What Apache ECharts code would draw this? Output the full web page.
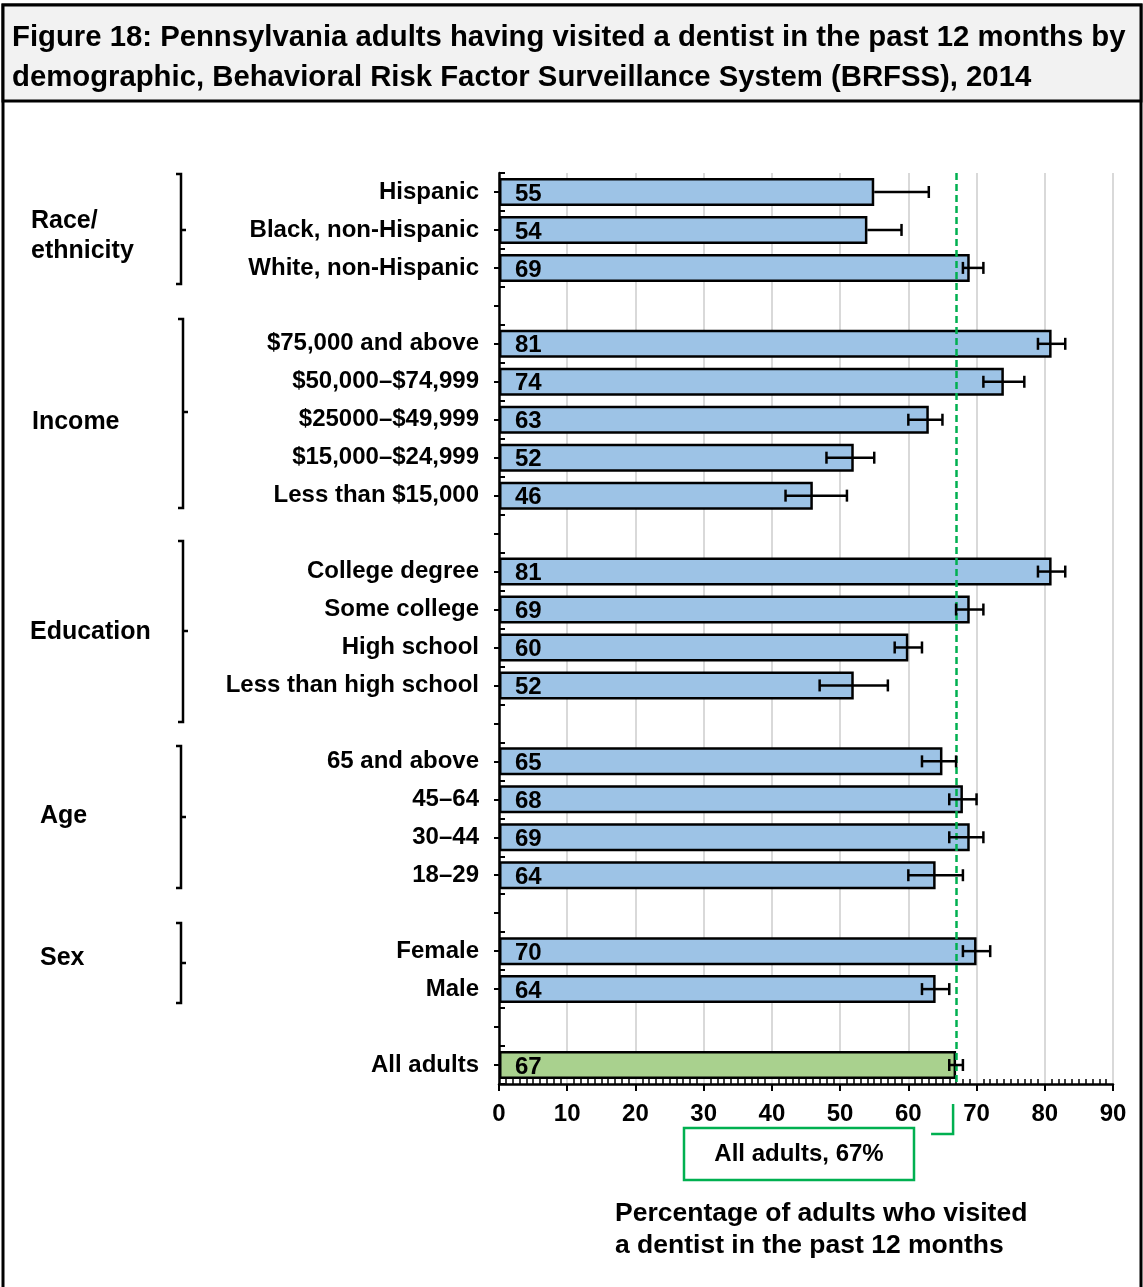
<!DOCTYPE html>
<html>
<head>
<meta charset="utf-8">
<script src="https://cdn.jsdelivr.net/npm/echarts@6/dist/echarts.min.js"></script>
<style>
html,body{margin:0;padding:0;background:#fff;}
#chart{width:1143px;height:1287px;}
</style>
</head>
<body>
<div id="chart"></div>
<script>
// ---- data ----
const categories = [
  'Hispanic', 'Black, non-Hispanic', 'White, non-Hispanic', '',
  '$75,000 and above', '$50,000–$74,999', '$25000–$49,999', '$15,000–$24,999', 'Less than $15,000', ' ',
  'College degree', 'Some college', 'High school', 'Less than high school', '  ',
  '65 and above', '45–64', '30–44', '18–29', '   ',
  'Female', 'Male', '    ',
  'All adults'
];
const values   = [55, 54, 69, null, 81, 74, 63, 52, 46, null, 81, 69, 60, 52, null, 65, 68, 69, 64, null, 70, 64, null, 67];
const errLow   = [null, null, 68, null, 79, 71, 60, 48, 42, null, 79, 67, 58, 47, null, 62, 66, 66, 60, null, 68, 62, null, 66];
const errHigh  = [63, 59, 71, null, 83, 77, 65, 55, 51, null, 83, 71, 62, 57, null, 67, 70, 71, 68, null, 72, 66, null, 68];
const overallValue = 67;
const overallIndex = 23;
const xTicks = [0, 10, 20, 30, 40, 50, 60, 70, 80, 90];
const groupLabels = ['Race/\nethnicity', 'Income', 'Education', 'Age', 'Sex'];
const titleLines = [
  'Figure 18: Pennsylvania adults having visited a dentist in the past 12 months by',
  'demographic, Behavioral Risk Factor Surveillance System (BRFSS), 2014'
];
const axisTitle = 'Percentage of adults who visited\na dentist in the past 12 months';
const refLabel = 'All adults, 67%';

// ---- styles ----
const FONT = '"Liberation Sans", Arial, sans-serif';
const BLUE = '#9dc3e6';
const GREEN_BAR = '#a9d18e';
const GREEN = '#00b050';

const chart = echarts.init(document.getElementById('chart'), null, {renderer: 'canvas'});

const barData = values.map((v, i) => {
  if (v === null) return '-';
  return {value: v, itemStyle: {color: i === overallIndex ? GREEN_BAR : BLUE}};
});

const errData = [];
values.forEach((v, i) => {
  if (errHigh[i] === null) return;
  errData.push([i, errLow[i] === null ? v : errLow[i], errHigh[i], errLow[i] === null ? 0 : 1]);
});

const GRID = {left: 499, top: 173, width: 614, height: 911};

const option = {
  animation: false,
  textStyle: {fontFamily: FONT},
  grid: GRID,
  xAxis: [
    {
      type: 'value', min: xTicks[0], max: xTicks[xTicks.length - 1], interval: 10,
      position: 'bottom',
      axisLine: {show: true, lineStyle: {color: '#000', width: 2.5}},
      axisTick: {show: true, length: 7, lineStyle: {color: '#000', width: 2}},
      axisLabel: {show: true, margin: 18, color: '#000', fontSize: 24, fontWeight: 'bold', fontFamily: FONT},
      splitLine: {show: true, lineStyle: {color: '#d9d9d9', width: 2}}
    },
    {
      type: 'value', min: xTicks[0], max: xTicks[xTicks.length - 1], interval: 10,
      position: 'bottom',
      axisLine: {show: false},
      axisTick: {show: false, inside: true},
      axisLabel: {show: false},
      splitLine: {show: false},
      minorTick: {show: true, splitNumber: 10, length: 5, lineStyle: {color: '#000', width: 1.5}}
    }
  ],
  yAxis: [
    {
      type: 'category', data: categories, inverse: true, position: 'left',
      axisLine: {show: true, lineStyle: {color: '#000', width: 2.5}},
      axisTick: {show: true, alignWithLabel: true, interval: 0, length: 5, lineStyle: {color: '#000', width: 2}},
      axisLabel: {show: true, interval: 0, margin: 20, padding: [4, 0, 0, 0], color: '#000', fontSize: 24, fontWeight: 'bold', fontFamily: FONT},
      splitLine: {show: false}
    },
    {
      type: 'category', data: categories, inverse: true, position: 'left',
      axisLine: {show: false},
      axisTick: {show: true, inside: true, interval: 0, length: 6, lineStyle: {color: '#000', width: 2}},
      axisLabel: {show: false},
      splitLine: {show: false}
    }
  ],
  series: [
    {
      type: 'bar',
      xAxisIndex: 0, yAxisIndex: 0,
      data: barData,
      barWidth: 28,
      itemStyle: {borderColor: '#000', borderWidth: 2.5},
      label: {
        show: true, position: 'insideLeft', distance: 16, offset: [0, 2],
        color: '#000', fontSize: 24, fontWeight: 'bold', fontFamily: FONT,
        formatter: p => p.value
      },
      markLine: {
        silent: true, symbol: 'none',
        label: {show: false},
        lineStyle: {color: GREEN, type: [7, 4], width: 2.5},
        data: [{xAxis: overallValue}]
      },
      z: 2
    },
    {
      type: 'custom',
      xAxisIndex: 0, yAxisIndex: 0,
      data: errData,
      encode: {x: [1, 2], y: 0},
      z: 5,
      renderItem: function (params, api) {
        const cat = api.value(0);
        const lo = api.coord([api.value(1), cat]);
        const hi = api.coord([api.value(2), cat]);
        const capLo = api.value(3) === 1;
        const h = 6;
        const st = {stroke: '#000', lineWidth: 2.5};
        const children = [
          {type: 'line', shape: {x1: lo[0], y1: lo[1], x2: hi[0], y2: hi[1]}, style: st},
          {type: 'line', shape: {x1: hi[0], y1: hi[1] - h, x2: hi[0], y2: hi[1] + h}, style: st}
        ];
        if (capLo) {
          children.push({type: 'line', shape: {x1: lo[0], y1: lo[1] - h, x2: lo[0], y2: lo[1] + h}, style: st});
        }
        return {type: 'group', children: children};
      }
    }
  ]
};

chart.setOption(option);

// ---- annotations (brackets, group labels, title, reference box) ----
const x67 = chart.convertToPixel({xAxisIndex: 0}, overallValue);

function bracket(x, y1, y2) {
  return {
    type: 'polyline', silent: true,
    shape: {points: [[x - 5, y1], [x, y1], [x, y2], [x - 5, y2]]},
    style: {stroke: '#000', lineWidth: 2.5, fill: null}
  };
}
function midTick(x, ym) {
  return {type: 'line', silent: true, shape: {x1: x, y1: ym, x2: x + 5, y2: ym}, style: {stroke: '#000', lineWidth: 2.5}};
}
const bracketSpec = [
  {x: 181, y1: 174, y2: 284, ym: 230, lx: 31, ly: 236},
  {x: 183, y1: 319, y2: 508, ym: 412, lx: 32, ly: 422},
  {x: 183, y1: 541, y2: 722, ym: 631, lx: 30, ly: 632},
  {x: 181, y1: 746, y2: 888, ym: 817, lx: 40, ly: 816},
  {x: 181, y1: 923, y2: 1003, ym: 963, lx: 40, ly: 958}
];
const graphics = [];
// frame + title block
graphics.push({type: 'rect', silent: true, z: 0, shape: {x: 3, y: 5, width: 1138, height: 1290}, style: {fill: null, stroke: '#000', lineWidth: 3}});
graphics.push({type: 'rect', silent: true, z: 0, shape: {x: 3, y: 5, width: 1138, height: 96}, style: {fill: '#f2f2f2', stroke: '#000', lineWidth: 3}});
graphics.push({type: 'text', silent: true, z: 1, x: 12, y: 38, style: {text: titleLines[0], font: 'bold 29.3px ' + FONT, fill: '#000', textVerticalAlign: 'middle'}});
graphics.push({type: 'text', silent: true, z: 1, x: 12, y: 78, style: {text: titleLines[1], font: 'bold 29.3px ' + FONT, fill: '#000', textVerticalAlign: 'middle'}});
bracketSpec.forEach((b, i) => {
  graphics.push(bracket(b.x, b.y1, b.y2));
  graphics.push(midTick(b.x, b.ym));
  graphics.push({type: 'text', silent: true, x: b.lx, y: b.ly,
    style: {text: groupLabels[i], font: 'bold 25px ' + FONT, fill: '#000', textVerticalAlign: 'middle', lineHeight: 30}});
});
// connector from the reference line to its label box
graphics.push({type: 'polyline', silent: true, shape: {points: [[x67 - 3, 1104], [x67 - 3, 1134], [x67 - 25, 1134]]},
  style: {stroke: GREEN, lineWidth: 2.5, fill: null}});
graphics.push({type: 'rect', silent: true, shape: {x: 684, y: 1128, width: 230, height: 52},
  style: {fill: '#fff', stroke: GREEN, lineWidth: 2.5}});
graphics.push({type: 'text', silent: true, x: 799, y: 1154,
  style: {text: refLabel, font: 'bold 24px ' + FONT, fill: '#000', textAlign: 'center', textVerticalAlign: 'middle'}});
// axis title
graphics.push({type: 'text', silent: true, x: 615, y: 1230,
  style: {text: axisTitle, font: 'bold 26.5px ' + FONT, fill: '#000', textVerticalAlign: 'middle', lineHeight: 32}});

chart.setOption({graphic: graphics});
</script>
</body>
</html>
